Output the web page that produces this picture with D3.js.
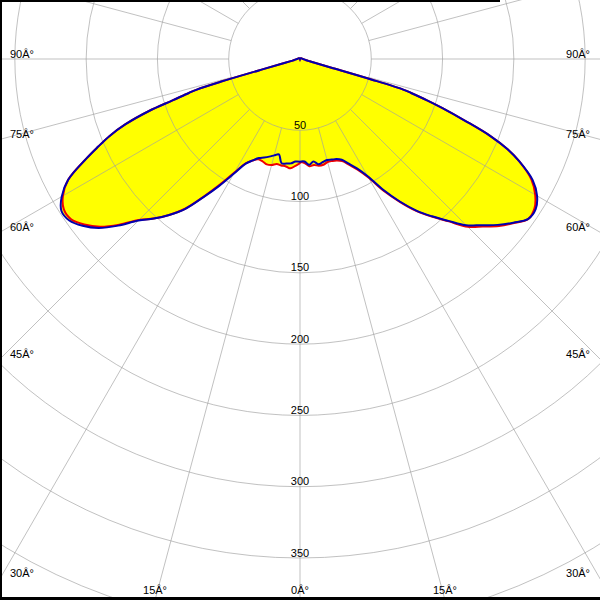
<!DOCTYPE html>
<html><head><meta charset="utf-8">
<script src="https://cdn.jsdelivr.net/npm/d3@7"></script>
<style>body{margin:0;background:#fff} svg{display:block}</style>
</head><body>
<svg id="c" width="600" height="600"></svg>
<script>
// polar angles (degrees from nadir)
const angles    = [0, 2.5, 5, 7.5, 10, 12.5, 15, 17.5, 20, 22.5, 25, 27.5, 30, 32.5, 35, 37.5, 40, 42.5, 45, 47.5, 50, 52.5, 55, 57.5, 60, 62.5,
                   65, 66.5, 68, 69.5, 71, 72, 73, 73.5, 74, 74.5, 75.5, 77.5, 80, 85, 90, 120, 150, 180];
// blue plane (left half / right half), intensity values
const blueLeft  = [72, 72, 73.5, 74, 74.3, 68.5, 70, 71.8, 73.5, 75.2, 78.5, 83, 93, 105.5, 118.5, 132.7, 142.8, 151.8, 160.2, 173, 184.4, 192.2, 197.5, 198.4, 193, 183.2,
                   165.4, 154.5, 144, 130.6, 112, 94, 81.5, 75.5, 58, 30, 12, 6, 4, 3, 2, 1, 0.5, 0];
const blueRight = [72, 72, 74.5, 72.5, 75, 74, 73.3, 74, 74.7, 76.5, 81, 86.5, 95, 109, 122, 134, 144, 154, 165, 172.5, 181, 188.6, 195.5, 196, 192, 184,
                   169.6, 158.8, 143.8, 123.7, 105.7, 93.7, 81.5, 75.5, 52, 25, 10, 6, 4, 3, 2, 1, 0.5, 0];
// red plane
const redLeft   = [73, 75, 77, 76, 75.8, 75.5, 77, 77.5, 76.5, 76.2, 78.5, 82.5, 92, 104.5, 118, 132.4, 142.8, 151.8, 159.7, 172, 183, 190.7, 196, 196.4, 192, 183.2,
                   165.4, 154.5, 144, 130.6, 112, 94, 81.5, 75.5, 58, 30, 12, 6, 4, 3, 2, 1, 0.5, 0];
const redRight  = [72.5, 73, 75.5, 75, 76, 76, 74.8, 75, 75.7, 77.5, 82, 87.5, 96, 110, 122.5, 134.5, 144.5, 154.5, 166.5, 174, 182.2, 189.1, 195.5, 195, 190.5, 183,
                   169.6, 158.8, 143.8, 123.7, 105.7, 93.7, 81.5, 75.5, 52, 25, 10, 6, 4, 3, 2, 1, 0.5, 0];
// radial tick labels
const radialTicks = [50, 100, 150, 200, 250, 300, 350];
const gridCircles = [50, 100, 150, 200, 250, 300, 350, 400, 450, 500, 550];
// angle labels
const sideAngles  = [90, 75, 60, 45, 30];
const sideLabels  = ["90Â°", "75Â°", "60Â°", "45Â°", "30Â°"];
const bottomAngles = [-15, 0, 15];
const bottomLabels = ["15Â°", "0Â°", "15Â°"];

const cx = 300, cy = 59;
const r = d3.scaleLinear().domain([0, 350]).range([0, 499]);
const svg = d3.select('#c');
svg.append('rect').attr('width', 600).attr('height', 600).attr('fill', '#fff');
const g = svg.append('g').attr('transform', `translate(${cx},${cy})`);

function pts(left, right) {
  const out = [];
  for (let i = angles.length - 1; i >= 0; i--) out.push([Math.PI + angles[i] * Math.PI / 180, r(left[i])]);
  for (let i = 0; i < angles.length; i++) out.push([Math.PI - angles[i] * Math.PI / 180, r(right[i])]);
  return out;
}
const line = d3.lineRadial().angle(d => d[0]).radius(d => d[1]).curve(d3.curveCatmullRomClosed.alpha(0.5));
const bluePts = pts(blueLeft, blueRight), redPts = pts(redLeft, redRight);

// fill (union)
g.append('path').attr('d', line(redPts)).attr('fill', '#ffff00');
g.append('path').attr('d', line(bluePts)).attr('fill', '#ffff00');

// grid
const grid = g.append('g').attr('stroke', '#a0a0a0').attr('stroke-opacity', 0.65).attr('fill', 'none');
grid.selectAll('circle').data(gridCircles).join('circle').attr('r', d => r(d));
const spokes = d3.range(0, 360, 15);
grid.selectAll('line').data(spokes).join('line')
  .attr('x1', d => r(50) * Math.sin(d * Math.PI / 180))
  .attr('y1', d => r(50) * Math.cos(d * Math.PI / 180))
  .attr('x2', d => 1000 * Math.sin(d * Math.PI / 180))
  .attr('y2', d => 1000 * Math.cos(d * Math.PI / 180));

// curves
g.append('path').attr('d', line(redPts)).attr('fill', 'none').attr('stroke', '#f00000').attr('stroke-width', 2);
g.append('path').attr('d', line(bluePts)).attr('fill', 'none').attr('stroke', '#0000b0').attr('stroke-width', 2);

// labels
const font = "'Liberation Sans', Arial, sans-serif";
g.selectAll('text.rt').data(radialTicks).join('text').attr('class', 'rt')
  .attr('x', 0).attr('y', d => r(d) - 1.5).attr('text-anchor', 'middle')
  .attr('font-family', font).attr('font-size', 11).attr('fill', '#000').text(d => d);

sideAngles.forEach((a, i) => {
  const t = a * Math.PI / 180;
  const y = cy + (cx / Math.sin(t)) * Math.cos(t) - 1.5;
  svg.append('text').attr('x', 10).attr('y', y).attr('font-family', font).attr('font-size', 11).text(sideLabels[i]);
  svg.append('text').attr('x', 590).attr('y', y).attr('text-anchor', 'end').attr('font-family', font).attr('font-size', 11).text(sideLabels[i]);
});
bottomAngles.forEach((a, i) => {
  const t = a * Math.PI / 180;
  const x = cx + (600 - cy) * Math.tan(t);
  svg.append('text').attr('x', x).attr('y', 593.5).attr('text-anchor', 'middle').attr('font-family', font).attr('font-size', 11).text(bottomLabels[i]);
});

// frame edges
svg.append('rect').attr('x', 0).attr('y', 0).attr('width', 2).attr('height', 600).attr('fill', '#000');
svg.append('rect').attr('x', 0).attr('y', 597).attr('width', 600).attr('height', 3).attr('fill', '#000');
svg.append('rect').attr('x', 0).attr('y', 0).attr('width', 500).attr('height', 2).attr('fill', '#000');
</script>
</body></html>
